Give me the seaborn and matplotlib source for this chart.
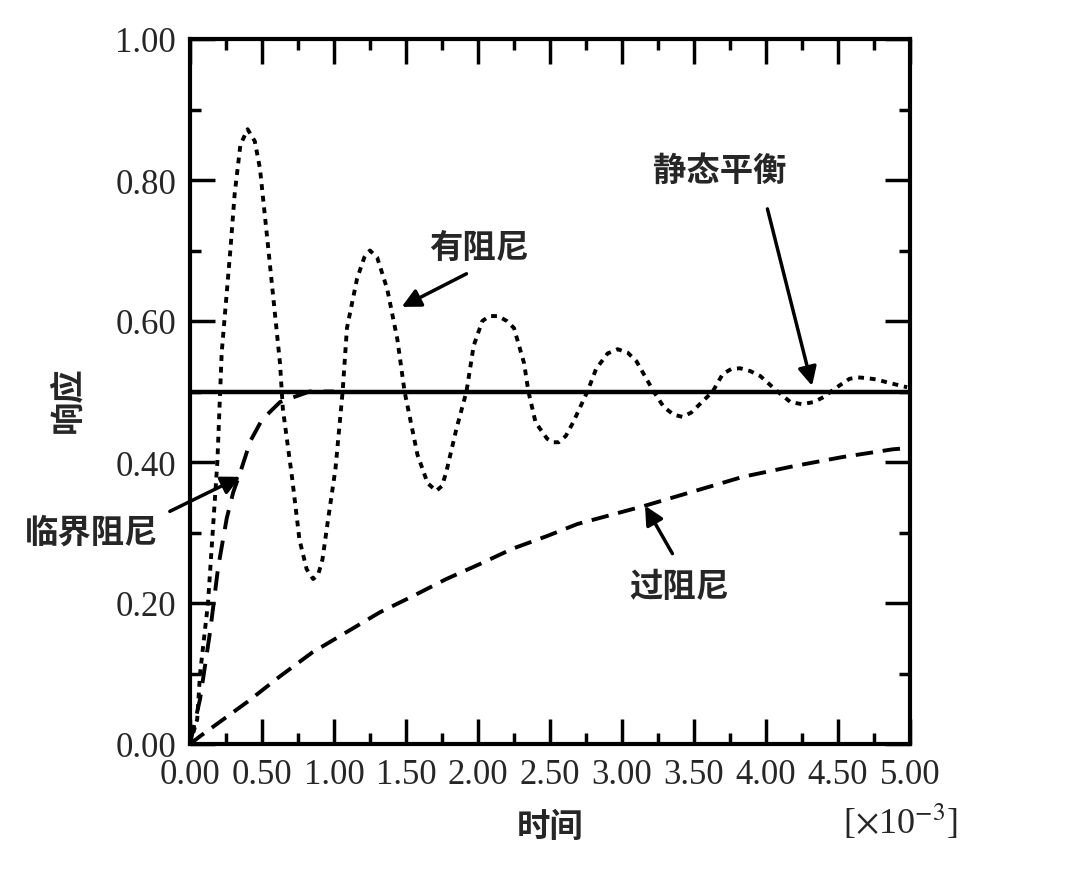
import pandas as pd
import matplotlib
matplotlib.use("Agg")
import matplotlib.pyplot as plt
import seaborn as sns

# values (time in units of 1e-3)
under_t = [0.00, 0.05, 0.07, 0.125, 0.19, 0.22, 0.28, 0.31, 0.35, 0.40, 0.45, 0.486, 0.54, 0.59,
           0.625, 0.645, 0.71, 0.76, 0.81, 0.855, 0.89, 0.92, 0.96, 1.01, 1.06, 1.09, 1.16, 1.21,
           1.25, 1.30, 1.37, 1.44, 1.49, 1.53, 1.58, 1.65, 1.71, 1.75, 1.78, 1.85, 1.92, 1.97,
           2.03, 2.08, 2.14, 2.20, 2.25, 2.32, 2.35, 2.40, 2.48, 2.52, 2.56, 2.61, 2.66, 2.76,
           2.82, 2.90, 2.97, 3.04, 3.10, 3.22, 3.29, 3.36, 3.42, 3.48, 3.54, 3.63, 3.70, 3.76,
           3.82, 3.89, 3.96, 4.08, 4.17, 4.25, 4.33, 4.40, 4.47, 4.58, 4.64, 4.70, 4.77, 4.84, 4.98]
under_v = [0.00, 0.035, 0.10, 0.20, 0.40, 0.555, 0.70, 0.78, 0.85, 0.872, 0.855, 0.816, 0.71, 0.61,
           0.54, 0.475, 0.376, 0.29, 0.248, 0.234, 0.24, 0.262, 0.32, 0.39, 0.50, 0.59, 0.66, 0.69,
           0.70, 0.69, 0.645, 0.574, 0.50, 0.46, 0.41, 0.37, 0.359, 0.366, 0.386, 0.447, 0.50, 0.565,
           0.60, 0.607, 0.607, 0.60, 0.59, 0.54, 0.50, 0.456, 0.433, 0.428, 0.428, 0.437, 0.456, 0.50,
           0.532, 0.554, 0.56, 0.555, 0.543, 0.50, 0.478, 0.467, 0.464, 0.470, 0.482, 0.50, 0.525, 0.532,
           0.533, 0.529, 0.522, 0.50, 0.485, 0.482, 0.485, 0.492, 0.503, 0.518, 0.520, 0.519, 0.517, 0.513, 0.506]

crit_t = [0.00, 0.07, 0.14, 0.195, 0.255, 0.30, 0.35, 0.42, 0.50, 0.625, 0.83, 1.00]
crit_v = [0.00, 0.064, 0.16, 0.25, 0.32, 0.357, 0.386, 0.43, 0.46, 0.485, 0.50, 0.50]

over_t = [0.00, 0.07, 0.40, 0.625, 0.85, 1.09, 1.32, 1.55, 1.78, 2.01, 2.24, 2.48, 2.69,
          3.16, 3.84, 4.19, 4.53, 4.88, 5.00]
over_v = [0.00, 0.011, 0.06, 0.096, 0.13, 0.159, 0.187, 0.21, 0.234, 0.255, 0.277, 0.295, 0.312,
          0.338, 0.379, 0.394, 0.407, 0.418, 0.42]

static_t = [0.00, 5.00]
static_v = [0.50, 0.50]

x_ticks = [0.0, 0.5, 1.0, 1.5, 2.0, 2.5, 3.0, 3.5, 4.0, 4.5, 5.0]
y_ticks = [0.0, 0.2, 0.4, 0.6, 0.8, 1.0]

sns.set_style("ticks")
plt.rcParams['font.family'] = ['Liberation Serif', 'Noto Sans CJK SC', 'DejaVu Sans']
plt.rcParams['mathtext.fontset'] = 'stix'
cjk = ['Noto Sans CJK SC', 'DejaVu Sans']

fig = plt.figure(figsize=(10.79, 8.70), dpi=100)
ax = fig.add_axes([190 / 1079, 1 - 745 / 870, 720 / 1079, 705 / 870])

sns.lineplot(x=static_t, y=static_v, ax=ax, color='black', lw=3.2, sort=False)
sns.lineplot(x=under_t, y=under_v, ax=ax, color='black', lw=2.8, sort=False,
             linestyle=(0, (1.5, 1.5)))
sns.lineplot(x=crit_t, y=crit_v, ax=ax, color='black', lw=2.8, sort=False,
             linestyle=(0, (5, 3)))
sns.lineplot(x=over_t, y=over_v, ax=ax, color='black', lw=2.8, sort=False,
             linestyle=(0, (4.5, 2.5)))

ax.set_xlim(0, 5)
ax.set_ylim(0, 1)
ax.set_xticks(x_ticks)
ax.set_xticklabels([f"{v:.2f}" for v in x_ticks])
ax.set_yticks(y_ticks)
ax.set_yticklabels([f"{v:.2f}" for v in y_ticks])
ax.set_xticks([v + 0.25 for v in x_ticks[:-1]], minor=True)
ax.set_yticks([v + 0.1 for v in y_ticks[:-1]], minor=True)
ax.tick_params(which='both', direction='in', top=True, right=True, color='black', width=2.5)
ax.tick_params(which='major', length=18, labelsize=25, pad=10)
ax.tick_params(which='minor', length=8)
for sp in ax.spines.values():
    sp.set_linewidth(3)
    sp.set_color('black')

ax.set_xlabel("时间", family=cjk, fontsize=24, fontweight='black')
ax.xaxis.set_label_coords(0.5, -0.093)
ax.set_ylabel("响应", family=cjk, fontsize=24, fontweight='black')
ax.yaxis.set_label_coords(-0.147, 0.49)

fig.text(900 / 1079, 1 - 822 / 870, r"[$\times$10$^{-3}$]", fontsize=26, ha='center', va='center')

arrow = dict(arrowstyle='-|>', color='black', lw=2.5, mutation_scale=28, shrinkA=0, shrinkB=0)
labels = ["静态平衡", "有阻尼", "临界阻尼", "过阻尼"]
label_pos = [(3.68, 0.813), (2.01, 0.705), (-0.68, 0.30), (3.40, 0.224)]
arrow_tail = [(4.01, 0.759), (1.92, 0.667), (-0.14, 0.33), (3.35, 0.27)]
arrow_head = [(4.32, 0.508), (1.47, 0.62), (0.35, 0.379), (3.16, 0.338)]
for lab, pos, tail, head in zip(labels, label_pos, arrow_tail, arrow_head):
    ax.text(pos[0], pos[1], lab, family=cjk, fontsize=24, fontweight='black',
            ha='center', va='center', clip_on=False)
    ax.annotate('', xy=head, xytext=tail, arrowprops=arrow, annotation_clip=False)

fig.savefig("out.png", dpi=100)
